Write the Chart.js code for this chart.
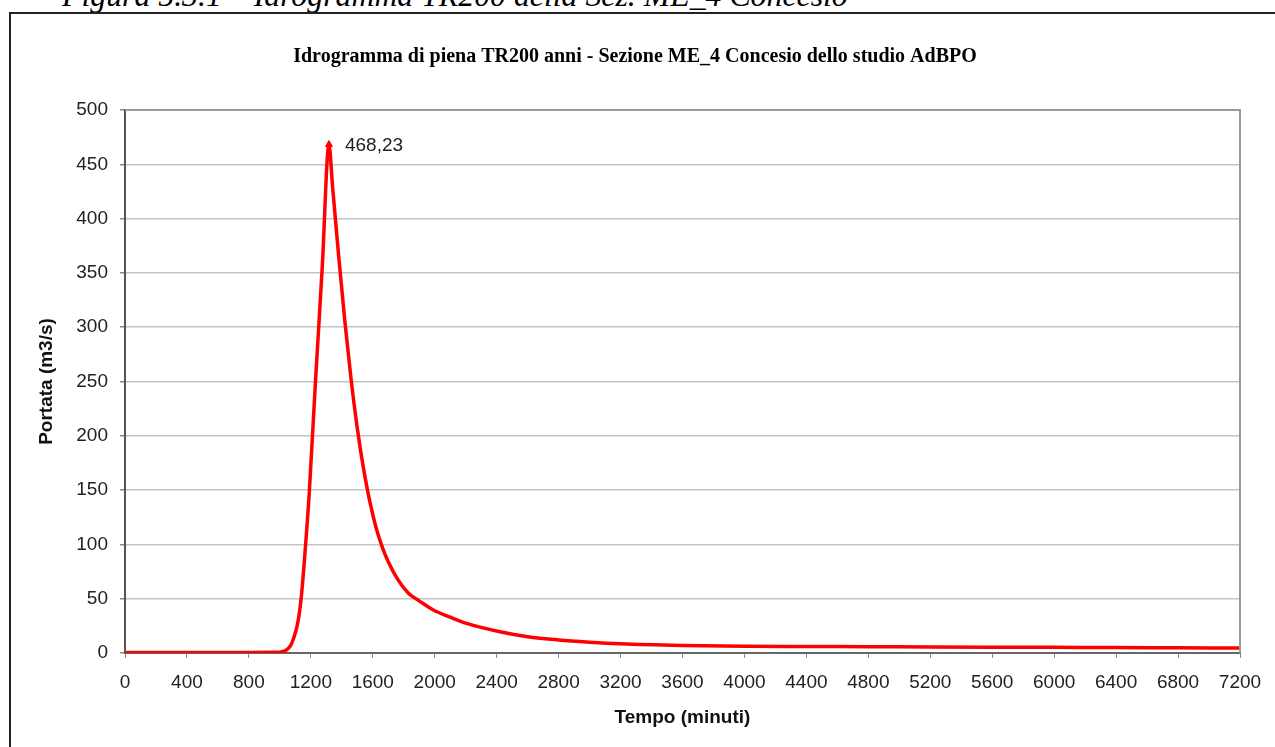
<!DOCTYPE html>
<html>
<head>
<meta charset="utf-8">
<script src="https://cdn.jsdelivr.net/npm/chart.js@4.4.1/dist/chart.umd.min.js"></script>
<style>
    html, body { margin: 0; padding: 0; background: #fff; overflow: hidden; }
    #page { position: relative; width: 1275px; height: 747px; overflow: hidden; }
    #caption {
        position: absolute; left: 62px; top: -20px; line-height: 1;
        font-family: 'Liberation Serif', serif; font-style: italic; font-size: 31.8px;
        color: #000; white-space: nowrap;
    }
    #frame {
        position: absolute; left: 9px; top: 12px; width: 1300px; height: 800px;
        border-top: 2px solid #222; border-left: 2px solid #222;
    }
    #powerChart { position: absolute; left: 0; top: 0; }
</style>
</head>
<body>
<div id="page">
    <div id="caption">Figura 5.3.1 – Idrogramma TR200 della Sez. ME_4 Concesio</div>
    <div id="frame"></div>
    <canvas id="powerChart" width="1275" height="747"></canvas>
</div>
<script>
// tempo (minuti) e portata (m3/s)
const tempo = [0, 400, 800, 960, 1000, 1040, 1070, 1090, 1110, 1125, 1140, 1160, 1190, 1230, 1274, 1317,
    1340, 1380, 1420, 1460, 1500, 1540, 1580, 1620, 1660, 1700, 1760, 1830, 1900, 1991, 2100,
    2206, 2421, 2600, 2800, 3000, 3200, 3600, 4000, 4400, 4800, 5200, 5600, 6000, 6400, 6800, 7200];
const portata = [0.5, 0.5, 0.5, 0.6, 0.8, 2.5, 7, 14, 24, 36, 54, 88, 148, 250, 356, 468.23,
    430, 365, 305, 252, 207, 170, 140, 116, 98, 84, 68, 55, 48, 39.6, 33,
    27.3, 19.6, 15, 12, 10, 8.5, 7, 6.3, 6, 5.8, 5.5, 5.3, 5.2, 5, 4.8, 4.6];
const peakLabel = '468,23';
const xTicks = { min: 0, max: 7200, step: 400 };
const yTicks = { min: 0, max: 500, step: 50 };

const peakIndex = portata.indexOf(Math.max(...portata));
const points = tempo.map((t, i) => ({ x: t, y: portata[i] }));

// bordo superiore/destro dell'area del grafico e etichetta del picco
const areaBorder = {
    id: 'areaBorder',
    afterDraw(chart) {
        const { ctx, chartArea: a, scales } = chart;
        ctx.save();
        ctx.strokeStyle = '#999';
        ctx.lineWidth = 2;
        ctx.beginPath();
        ctx.moveTo(a.left, a.top);
        ctx.lineTo(a.right, a.top);
        ctx.lineTo(a.right, a.bottom);
        ctx.stroke();

        const px = scales.x.getPixelForValue(tempo[peakIndex]);
        const py = scales.y.getPixelForValue(portata[peakIndex]);
        ctx.fillStyle = '#222';
        ctx.font = '19px "Liberation Sans", Arial, sans-serif';
        ctx.textAlign = 'left';
        ctx.textBaseline = 'middle';
        ctx.fillText(peakLabel, px + 16, py + 1);
        ctx.restore();
    }
};

new Chart(document.getElementById('powerChart').getContext('2d'), {
    type: 'line',
    data: {
        datasets: [{
            data: points,
            borderColor: '#ff0000',
            backgroundColor: '#ff0000',
            borderWidth: 3.5,
            fill: false,
            cubicInterpolationMode: 'monotone',
            pointRadius: points.map((p, i) => i === peakIndex ? 4 : 0),
            pointStyle: 'triangle',
            pointBorderWidth: 1
        }]
    },
    options: {
        responsive: false,
        animation: false,
        layout: { padding: { left: 30, right: 35, top: 0, bottom: 0 } },
        plugins: {
            legend: { display: false },
            tooltip: { enabled: false },
            title: {
                display: true,
                text: 'Idrogramma di piena TR200 anni - Sezione ME_4 Concesio dello studio AdBPO',
                color: '#000',
                font: { family: '"Liberation Serif", serif', size: 20, weight: 'bold', lineHeight: 1.2 },
                padding: { top: 45, bottom: 41 }
            }
        },
        scales: {
            x: {
                type: 'linear',
                min: xTicks.min,
                max: xTicks.max,
                afterFit: scale => { scale.height = 94; },
                ticks: {
                    stepSize: xTicks.step,
                    color: '#222',
                    padding: 13,
                    maxRotation: 0,
                    callback: value => String(value),
                    font: { family: '"Liberation Sans", Arial, sans-serif', size: 19 }
                },
                grid: { drawOnChartArea: false, drawTicks: true, tickLength: 5, tickColor: '#888' },
                border: { color: '#666', width: 2 },
                title: {
                    display: true,
                    text: 'Tempo (minuti)',
                    color: '#111',
                    font: { family: '"Liberation Sans", Arial, sans-serif', size: 19, weight: 'bold', lineHeight: 1.2 },
                    padding: { top: 0, bottom: 18 }
                }
            },
            y: {
                min: yTicks.min,
                max: yTicks.max,
                afterFit: scale => { scale.width = 95; },
                ticks: {
                    stepSize: yTicks.step,
                    color: '#222',
                    padding: 12,
                    font: { family: '"Liberation Sans", Arial, sans-serif', size: 19 }
                },
                grid: { color: '#c4c4c4', lineWidth: 1.5, tickLength: 5, tickColor: '#888' },
                border: { color: '#555', width: 2 },
                title: {
                    display: true,
                    text: 'Portata (m3/s)',
                    color: '#111',
                    font: { family: '"Liberation Sans", Arial, sans-serif', size: 19, weight: 'bold', lineHeight: 1.2 },
                    padding: { top: 5, bottom: 0 }
                }
            }
        }
    },
    plugins: [areaBorder]
});
</script>
</body>
</html>
